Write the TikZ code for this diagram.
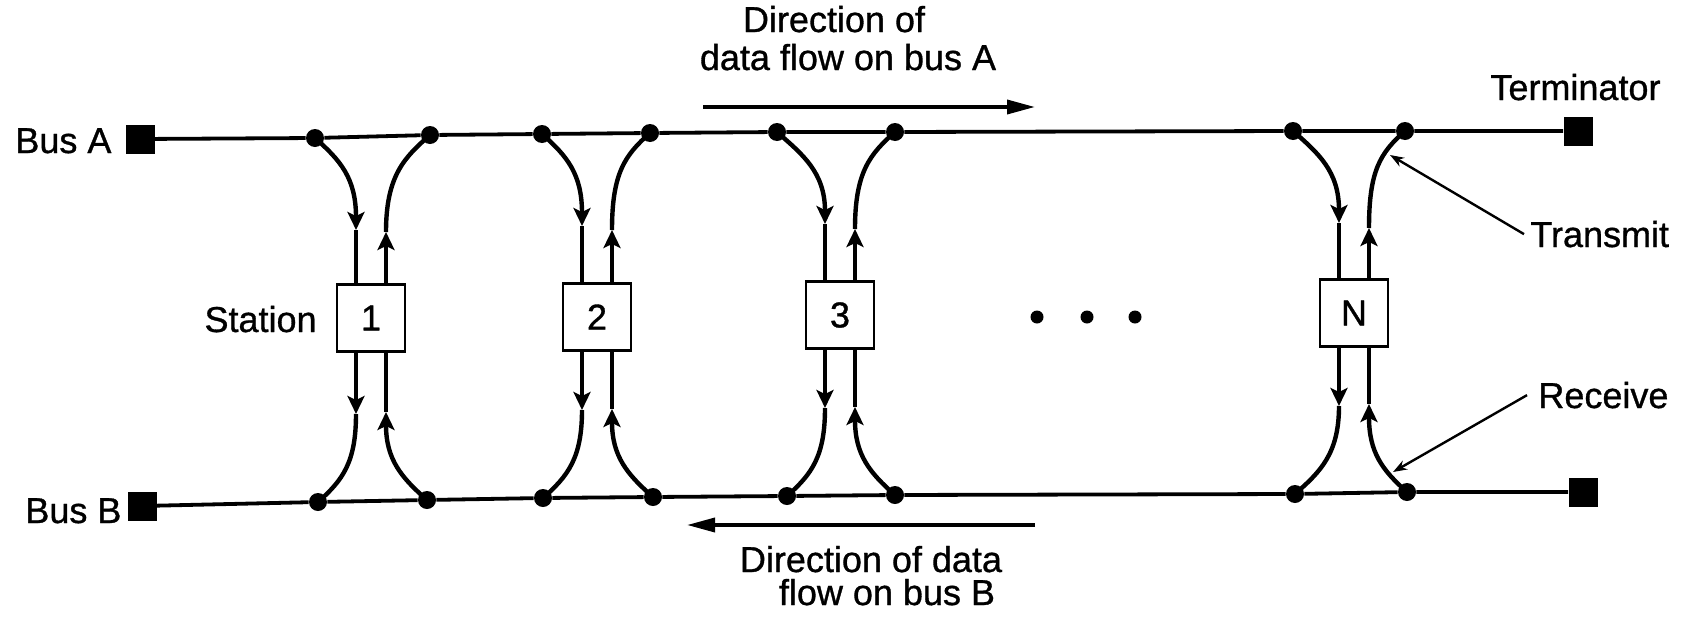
\documentclass[tikz,border=0pt]{standalone}
\usepackage{fontspec}
\setmainfont{Liberation Sans}[FakeBold=0.9]
\usetikzlibrary{arrows.meta,calc}
\pgfdeclarelayer{bg}
\pgfsetlayers{bg,main}
\begin{document}
\begin{tikzpicture}[x=0.5pt,y=-0.5pt,
  font=\fontsize{18}{21}\selectfont,
  bus/.style={line width=1.9pt},
  wire/.style={line width=2.2pt},
  wtip/.style={wire,-{Stealth[length=9pt,width=8.5pt,inset=2pt]}},
  jdot/.style={circle,fill,inner sep=0pt,minimum size=9pt},
  term/.style={rectangle,fill,inner sep=0pt,minimum size=14.5pt},
  stbox/.style={draw,line width=1.2pt,fill=white,inner sep=0pt,minimum width=34pt,minimum height=33.5pt},
  lbl/.style={inner sep=0pt},
  leader/.style={line width=1.2pt,-{Stealth[length=7pt,width=5pt]}},
  dirarrow/.style={line width=1.8pt,-{Triangle[length=14pt,width=7pt]}}
]
\useasboundingbox (0,0) rectangle (1688,627);

\foreach \n/\lab/\cx/\cy/\alx/\aly/\arx/\ary/\blx/\bly/\brx/\bry in {
 1/1/371/318/315/138/430/135/318/502/427/500,
 2/2/597/317/542/134/650/133/543/498/653/497,
 3/3/840/315/777/132/895/132/787/496/895/495,
 N/N/1354/313/1293/131/1405/131/1295/494/1407/492}
{
 \node[stbox] (s\n) at (\cx,\cy) {\lab};
 \node[jdot] (al\n) at (\alx,\aly) {};
 \node[jdot] (ar\n) at (\arx,\ary) {};
 \node[jdot] (bl\n) at (\blx,\bly) {};
 \node[jdot] (br\n) at (\brx,\bry) {};
 \begin{pgfonlayer}{bg}
  % top left: receive from bus A
  \draw[wtip] (al\n.center) .. controls ({\alx+25},{\aly+22}) and ({\cx-15},{\aly+40}) .. ({\cx-15},{\aly+92});
  \draw[wire] ({\cx-15},{\aly+92}) -- ($(s\n.north)+(-15,0)$);
  % top right: transmit to bus A
  \draw[wtip] ($(s\n.north)+(15,0)$) -- ({\cx+15},{\ary+97});
  \draw[wire] ({\cx+15},{\ary+97}) .. controls ({\cx+15},{\ary+40}) and ({\arx-25},{\ary+22}) .. (ar\n.center);
  % bottom left: transmit to bus B
  \draw[wtip] ($(s\n.south)+(-15,0)$) -- ({\cx-15},{\bly-88});
  \draw[wire] ({\cx-15},{\bly-88}) .. controls ({\cx-15},{\bly-40}) and ({\blx+25},{\bly-22}) .. (bl\n.center);
  % bottom right: receive from bus B
  \draw[wtip] (br\n.center) .. controls ({\brx-25},{\bry-22}) and ({\cx+15},{\bry-40}) .. ({\cx+15},{\bry-88});
  \draw[wire] ({\cx+15},{\bry-88}) -- ($(s\n.south)+(15,0)$);
 \end{pgfonlayer}
}

% terminators
\node[term] (tAl) at (140,139) {};
\node[term] (tAr) at (1578,131) {};
\node[term] (tBl) at (142,506) {};
\node[term] (tBr) at (1583,492) {};

\begin{pgfonlayer}{bg}
\draw[bus] (tAl) -- (al1) -- (ar1) -- (al2) -- (ar2) -- (al3) -- (ar3) -- (alN) -- (arN) -- (tAr);
\draw[bus] (tBl) -- (bl1) -- (br1) -- (bl2) -- (br2) -- (bl3) -- (br3) -- (blN) -- (brN) -- (tBr);
\end{pgfonlayer}

% ellipsis
\node[jdot,minimum size=6.5pt] (e1) at (1037,317) {};
\node[jdot,minimum size=6.5pt] (e2) at (1087,317) {};
\node[jdot,minimum size=6.5pt] (e3) at (1135,317) {};

% labels
\node[lbl,anchor=base west] (busA) at (15,153) {Bus A};
\node[lbl,anchor=base west] (busB) at (25,523) {Bus B};
\node[lbl,anchor=base east] (stn) at (317,332) {Station};
\node[lbl,anchor=base west] (termlbl) at (1490,100) {Terminator};
\node[lbl,anchor=base west] (tx) at (1530,247) {Transmit};
\node[lbl,anchor=base west] (rx) at (1538,408) {Receive};
\node[lbl,anchor=base] (dirA1) at (834,32) {Direction of};
\node[lbl,anchor=base] (dirA2) at (848,70) {data flow on bus A};
\node[lbl,anchor=base] (dirB1) at (871,572) {Direction of data};
\node[lbl,anchor=base] (dirB2) at (887,605) {flow on bus B};

% leaders
\coordinate (txp) at (1390,155);
\coordinate (rxp) at (1393,472);
\draw[leader] ($(tx.west)+(-6,0)$) -- (txp);
\draw[leader] ($(rx.west)+(-11,0)$) -- (rxp);

% direction arrows
\coordinate (dAs) at (703,107);
\coordinate (dAe) at (1035,107);
\coordinate (dBs) at (1035,525);
\coordinate (dBe) at (687,525);
\draw[dirarrow] (dAs) -- (dAe);
\draw[dirarrow] (dBs) -- (dBe);
\end{tikzpicture}
\end{document}
